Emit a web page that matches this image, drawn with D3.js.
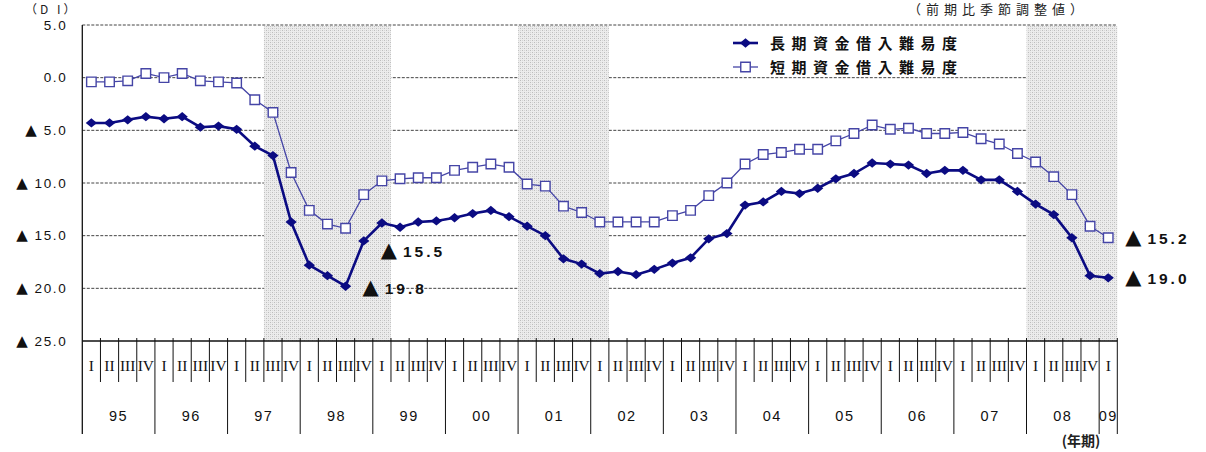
<!DOCTYPE html>
<html>
<head>
<meta charset="utf-8">
<script src="https://cdn.jsdelivr.net/npm/d3@7"></script>
<style>
  html, body { margin: 0; padding: 0; background: #fff; }
  svg { display: block; }
</style>
</head>
<body>
<svg id="chart" width="1206" height="452"></svg>
<script>
// ---------- DATA ----------
const years = ["95","96","97","98","99","00","01","02","03","04","05","06","07","08","09"];
const quarterNames = ["I","II","III","IV"];
// quarters per year (09 only has Q1)
const quartersPerYear = [4,4,4,4,4,4,4,4,4,4,4,4,4,4,1];

const longTerm = [
  -4.3, -4.3, -4.0, -3.7, -3.9, -3.7, -4.7, -4.6, -4.9, -6.5, -7.4,
  -13.7, -17.8, -18.8, -19.8, -15.5, -13.8,
  -14.2, -13.7, -13.6, -13.3, -12.9, -12.6, -13.2, -14.1, -15.0, -17.2, -17.7,
  -18.6, -18.4, -18.7, -18.2, -17.6, -17.1, -15.3, -14.8, -12.1, -11.8, -10.8, -11.0,
  -10.5, -9.6, -9.1, -8.1, -8.2, -8.3, -9.1, -8.8, -8.8, -9.7, -9.7, -10.8,
  -12.0, -13.0, -15.2, -18.8, -19.0
];
const shortTerm = [
  -0.4, -0.4, -0.3, 0.4, 0.0, 0.4, -0.3, -0.4, -0.5, -2.1, -3.3,
  -9.0, -12.6, -13.9, -14.3, -11.1, -9.8,
  -9.6, -9.5, -9.5, -8.8, -8.5, -8.2, -8.5, -10.1, -10.3, -12.2, -12.8,
  -13.7, -13.7, -13.7, -13.7, -13.1, -12.6, -11.2, -10.0, -8.2, -7.3, -7.1, -6.8,
  -6.8, -6.0, -5.3, -4.5, -4.9, -4.8, -5.3, -5.3, -5.2, -5.8, -6.3, -7.2,
  -8.0, -9.4, -11.1, -14.1, -15.2
];
const yTicks = [5, 0, -5, -10, -15, -20, -25];
// shaded (recession) periods: [first quarter, last quarter]
const shadedPeriods = [["97Q3","99Q1"], ["01Q1","02Q1"], ["08Q1","09Q1"]];
const seriesNames = ["長期資金借入難易度", "短期資金借入難易度"];
const annotations = [
  {q: "98Q3", value: -19.8, label: "19.8"},
  {q: "98Q4", value: -15.5, label: "15.5"},
  {q: "09Q1", value: -15.2, label: "15.2"},
  {q: "09Q1", value: -19.0, label: "19.0"}
];

(function () {
// ---------- BUILD CATEGORIES ----------
const categories = [];
years.forEach((yr, yi) => {
  for (let q = 0; q < quartersPerYear[yi]; q++) categories.push(yr + "Q" + (q + 1));
});

// ---------- LAYOUT ----------
const svg = d3.select("#chart");
const pL = 82.3, pR = 1117.3, pT = 25, pB = 341;

const x = d3.scaleBand().domain(categories).range([pL, pR]).paddingInner(0).paddingOuter(0);
const y = d3.scaleLinear().domain([-25, 5]).range([pB, pT]);
const cx = c => x(c) + x.bandwidth() / 2;

// pattern for shading
const defs = svg.append("defs");
const pat = defs.append("pattern").attr("id", "dots").attr("patternUnits", "userSpaceOnUse")
  .attr("width", 4).attr("height", 4);
pat.append("rect").attr("width", 4).attr("height", 4).attr("fill", "#ececec");
pat.append("rect").attr("x", 0).attr("y", 0).attr("width", 1).attr("height", 1).attr("fill", "#bdbdbd");
pat.append("rect").attr("x", 2).attr("y", 2).attr("width", 1).attr("height", 1).attr("fill", "#bdbdbd");
pat.append("rect").attr("x", 2).attr("y", 0).attr("width", 1).attr("height", 1).attr("fill", "#d6d6d6");
pat.append("rect").attr("x", 0).attr("y", 2).attr("width", 1).attr("height", 1).attr("fill", "#d6d6d6");

// gridlines (dashed)
svg.append("g").selectAll("line").data(yTicks.filter(t => t > -25 && t < 5)).join("line")
  .attr("x1", pL).attr("x2", pR)
  .attr("y1", d => y(d)).attr("y2", d => y(d))
  .attr("stroke", "#444").attr("stroke-width", 1).attr("stroke-dasharray", "3,1.5");

// shading
svg.append("g").selectAll("rect").data(shadedPeriods).join("rect")
  .attr("x", d => x(d[0]))
  .attr("width", d => x(d[1]) + x.bandwidth() - x(d[0]))
  .attr("y", y(5) + 1).attr("height", y(-25) - y(5) - 1)
  .attr("fill", "url(#dots)");

// top dashed border
svg.append("line").attr("x1", pL).attr("x2", pR).attr("y1", y(5)).attr("y2", y(5))
  .attr("stroke", "#444").attr("stroke-width", 1).attr("stroke-dasharray", "3,1.5");

// y axis labels
const yAxis = d3.axisLeft(y).tickValues(yTicks).tickSize(0).tickPadding(15)
  .tickFormat(d => d < 0 ? "▲ " + d3.format(".1f")(-d) : d3.format(".1f")(d));
const yg = svg.append("g").attr("transform", `translate(${pL},0)`).call(yAxis);
yg.select(".domain").remove();
yg.selectAll("text").attr("font-family", "Liberation Sans, Arial, sans-serif")
  .attr("font-size", 13.5).attr("fill", "#111").attr("letter-spacing", 1.6)
  .each(function(d) {
    if (d < 0) {
      const t = d3.select(this);
      t.text(null);
      t.append("tspan").attr("font-family", "DejaVu Sans, sans-serif").attr("font-size", 15).text("▲");
      t.append("tspan").text(" " + d3.format(".1f")(-d));
    }
  });

// left axis line + bottom axis
svg.append("line").attr("x1", pL).attr("x2", pL).attr("y1", y(5)).attr("y2", 434)
  .attr("stroke", "#111").attr("stroke-width", 1.3);
svg.append("line").attr("x1", pL).attr("x2", pR).attr("y1", y(-25)).attr("y2", y(-25))
  .attr("stroke", "#111").attr("stroke-width", 1.3);

// x axis: quarter ticks & labels
const xg = svg.append("g");
categories.forEach((c, i) => {
  const isYearStart = c.endsWith("Q1");
  if (i > 0) {
    xg.append("line").attr("x1", x(c)).attr("x2", x(c))
      .attr("y1", pB - 3).attr("y2", isYearStart ? 434 : 382)
      .attr("stroke", "#111").attr("stroke-width", 1);
  }
  xg.append("text").attr("x", cx(c)).attr("y", 371)
    .attr("text-anchor", "middle")
    .attr("font-family", "Liberation Serif, Times New Roman, serif")
    .attr("font-size", 15.5).attr("fill", "#111")
    .text(quarterNames[+c.slice(3) - 1]);
});
xg.append("line").attr("x1", pR).attr("x2", pR).attr("y1", pB - 3).attr("y2", 434)
  .attr("stroke", "#111").attr("stroke-width", 1);
// year labels
years.forEach(yr => {
  const qs = categories.filter(c => c.startsWith(yr));
  const x0 = x(qs[0]), x1 = x(qs[qs.length - 1]) + x.bandwidth();
  xg.append("text").attr("x", (x0 + x1) / 2).attr("y", 421)
    .attr("text-anchor", "middle")
    .attr("font-family", "Liberation Sans, Arial, sans-serif")
    .attr("font-size", 14.5).attr("letter-spacing", 1.5).attr("fill", "#111")
    .text(yr);
});
svg.append("text").attr("x", 1081).attr("y", 446).attr("text-anchor", "middle")
  .attr("font-family", "Noto Sans CJK JP, sans-serif").attr("font-size", 14)
  .attr("font-weight", "bold").attr("fill", "#222").text("(年期)");

// titles
svg.append("text").attr("x", 25).attr("y", 14)
  .attr("font-family", "Noto Sans CJK JP, sans-serif").attr("font-size", 12)
  .attr("letter-spacing", 3).attr("fill", "#222").text("（D I）");
svg.append("text").attr("x", 908).attr("y", 14)
  .attr("font-family", "Noto Sans CJK JP, sans-serif").attr("font-size", 13)
  .attr("letter-spacing", 5).attr("fill", "#222").text("（前期比季節調整値）");

// ---------- SERIES ----------
const longColor = "#0b0b82", shortColor = "#4545a6";
const lineGen = d3.line().x((d, i) => cx(categories[i])).y(d => y(d));

svg.append("path").datum(shortTerm).attr("d", lineGen)
  .attr("fill", "none").attr("stroke", shortColor).attr("stroke-width", 1.3);
svg.append("path").datum(longTerm).attr("d", lineGen)
  .attr("fill", "none").attr("stroke", longColor).attr("stroke-width", 2.6);

const sq = d3.symbol(d3.symbolSquare, 90);
const dia = d3.symbol(d3.symbolSquare, 48);

svg.append("g").selectAll("path").data(longTerm).join("path")
  .attr("d", dia)
  .attr("transform", (d, i) => `translate(${cx(categories[i])},${y(d)}) scale(1.15,0.95) rotate(45)`)
  .attr("fill", longColor);

svg.append("g").selectAll("path").data(shortTerm).join("path")
  .attr("d", sq)
  .attr("transform", (d, i) => `translate(${cx(categories[i])},${y(d)})`)
  .attr("fill", "#fff").attr("stroke", shortColor).attr("stroke-width", 1.4);

// ---------- LEGEND ----------
const lg = svg.append("g");
[[longColor, 2.6, "long"], [shortColor, 1.3, "short"]].forEach((s, k) => {
  const ly = 43 + k * 24;
  lg.append("line").attr("x1", 733).attr("x2", 758).attr("y1", ly).attr("y2", ly)
    .attr("stroke", s[0]).attr("stroke-width", s[1]);
  if (s[2] === "long") {
    lg.append("path").attr("d", dia)
      .attr("transform", `translate(745.5,${ly}) scale(1.15,0.95) rotate(45)`).attr("fill", s[0]);
  } else {
    lg.append("path").attr("d", sq).attr("transform", `translate(745.5,${ly})`)
      .attr("fill", "#fff").attr("stroke", s[0]).attr("stroke-width", 1.4);
  }
  lg.append("text").attr("x", 770).attr("y", ly + 5.5)
    .attr("font-family", "Noto Sans CJK JP, sans-serif").attr("font-size", 15)
    .attr("font-weight", "bold").attr("letter-spacing", 6.5).attr("fill", "#111")
    .text(seriesNames[k]);
});

// ---------- ANNOTATIONS ----------
const annPos = {
  "98Q3": {dx: 17, dy: 2},
  "98Q4": {dx: 17, dy: 10},
  "09Q1": {dx: 17, dy: 0}
};
const ag = svg.append("g");
annotations.forEach(a => {
  const p = annPos[a.q];
  const t = ag.append("text")
    .attr("x", cx(a.q) + p.dx).attr("y", y(a.value) + p.dy + 6)
    .attr("font-family", "Liberation Sans, Arial, sans-serif")
    .attr("font-weight", "bold").attr("font-size", 15.5).attr("fill", "#111");
  t.append("tspan").attr("font-family", "DejaVu Sans, sans-serif").attr("font-size", 21).text("▲");
  t.append("tspan").attr("dx", 6).attr("letter-spacing", 3).text(a.label);
});
})();
</script>
</body>
</html>
